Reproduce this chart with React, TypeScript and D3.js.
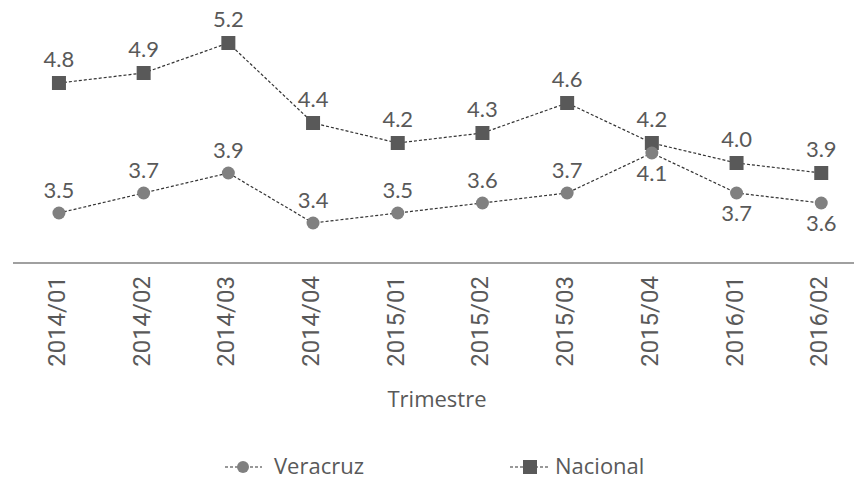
import React from "react";
import * as d3 from "d3";

const categories = ["2014/01","2014/02","2014/03","2014/04","2015/01","2015/02","2015/03","2015/04","2016/01","2016/02"];
const veracruz = [3.5, 3.7, 3.9, 3.4, 3.5, 3.6, 3.7, 4.1, 3.7, 3.6];
const nacional = [4.8, 4.9, 5.2, 4.4, 4.2, 4.3, 4.6, 4.2, 4.0, 3.9];
const veracruzBelow = [false, false, false, false, false, false, false, true, true, true];
const axisTitle = "Trimestre";
const seriesNames = ["Veracruz", "Nacional"];

const W = 854, H = 479;

export default function App() {
  const x = d3.scalePoint<string>().domain(categories).range([16.6, 863.6]).padding(0.5);
  const y = d3.scaleLinear().domain([3, 5.6]).range([263, 3]);
  const line = d3.line<number>().x((_, i) => x(categories[i])!).y(d => y(d));
  const labelFont = "Lato, 'Open Sans', sans-serif";
  const textFont = "'Open Sans', sans-serif";
  const textColor = "#595959";
  const dash = "3,2";
  return (
    <svg width={W} height={H} style={{ position: "absolute", left: 0, top: 0, background: "#fff" }}>
      <line x1={13} x2={W} y1={y(3)} y2={y(3)} stroke="#808080" strokeWidth={1.5} />
      <path d={line(nacional)!} fill="none" stroke="#333" strokeWidth={1.2} strokeDasharray={dash} />
      <path d={line(veracruz)!} fill="none" stroke="#333" strokeWidth={1.2} strokeDasharray={dash} />
      {nacional.map((v, i) => (
        <rect key={"n" + i} x={x(categories[i])! - 7} y={y(v) - 7} width={14} height={14} fill="#595959" />
      ))}
      {veracruz.map((v, i) => (
        <circle key={"v" + i} cx={x(categories[i])!} cy={y(v)} r={6.5} fill="#808080" />
      ))}
      {nacional.map((v, i) => (
        <text key={"nl" + i} x={x(categories[i])!} y={y(v) - 16} textAnchor="middle" fontFamily={labelFont} fontSize={22} fill={textColor}>{v.toFixed(1)}</text>
      ))}
      {veracruz.map((v, i) => (
        <text key={"vl" + i} x={x(categories[i])!} y={veracruzBelow[i] ? y(v) + 28 : y(v) - 15} textAnchor="middle" fontFamily={labelFont} fontSize={22} fill={textColor}>{v.toFixed(1)}</text>
      ))}
      {categories.map((c) => (
        <text key={c} transform={`translate(${x(c)! + 6},276) rotate(-90)`} textAnchor="end" fontFamily="Roboto, sans-serif" fontSize={24} fill={textColor}>{c}</text>
      ))}
      <text x={437} y={407} textAnchor="middle" fontFamily={textFont} fontSize={22} fill={textColor}>{axisTitle}</text>
      <g>
        <line x1={225} x2={262} y1={467} y2={467} stroke="#333" strokeWidth={1.2} strokeDasharray={dash} />
        <circle cx={243} cy={467} r={6} fill="#808080" />
        <text x={274} y={474} fontFamily={textFont} fontSize={22} fill={textColor}>{seriesNames[0]}</text>
        <line x1={510} x2={550} y1={467} y2={467} stroke="#333" strokeWidth={1.2} strokeDasharray={dash} />
        <rect x={523} y={460} width={14} height={14} fill="#595959" />
        <text x={555} y={474} fontFamily={textFont} fontSize={22} fill={textColor}>{seriesNames[1]}</text>
      </g>
    </svg>
  );
}
